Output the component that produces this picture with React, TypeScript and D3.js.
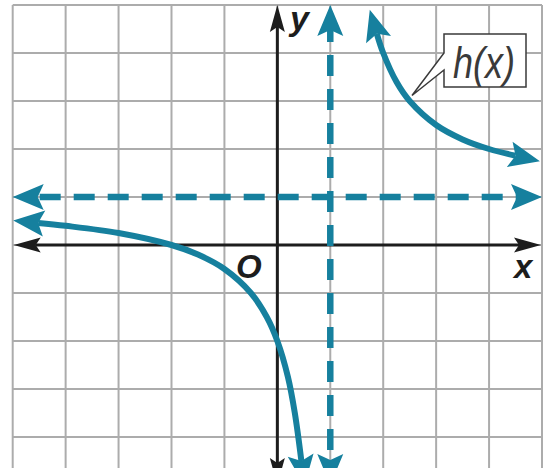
import React from 'react';
import * as d3 from 'd3';

// grid units shown on the graph paper
const xTicks = [-5, -4, -3, -2, -1, 0, 1, 2, 3, 4, 5];
const yTicks = [-5, -4, -3, -2, -1, 0, 1, 2, 3, 4, 5];

// dashed asymptotes
const verticalAsymptotes = [1];
const horizontalAsymptotes = [1];

const leftBranch = [
  { x: -4.52, y: 0.46 },
  { x: -4, y: 0.4 },
  { x: -3, y: 0.25 },
  { x: -2, y: 0 },
  { x: -1.5, y: -0.2 },
  { x: -1, y: -0.5 },
  { x: -0.5, y: -1 },
  { x: -0.2, y: -1.5 },
  { x: 0, y: -2 },
  { x: 0.2, y: -2.75 },
  { x: 0.33, y: -3.5 },
  { x: 0.454, y: -4.5 },
];

const rightBranch = [
  { x: 1.88, y: 4.4 },
  { x: 2, y: 4 },
  { x: 2.25, y: 3.4 },
  { x: 2.5, y: 3 },
  { x: 3, y: 2.5 },
  { x: 3.5, y: 2.2 },
  { x: 4, y: 2 },
  { x: 4.5, y: 1.86 },
];

const curveLabel = 'h(x)';

const TEAL = '#16809e';
const INK = '#1d1d1d';
const GRID = '#acacac';

const width = 545;
const height = 468;

const x = d3.scaleLinear().domain([-5, 5]).range([12.7, 542]);
const y = d3.scaleLinear().domain([-5, 5]).range([485, 5]);

const line = d3
  .line<{ x: number; y: number }>()
  .x(d => x(d.x))
  .y(d => y(d.y))
  .curve(d3.curveCatmullRom.alpha(0.5));

// arrowhead sizes: length, half width, notch depth
const tealHead = { L: 31, W: 13, n: 6 };
const inkHead = { L: 27, W: 7.5, n: 5 };
const tealReach = tealHead.L - tealHead.n;
const inkReach = inkHead.L - inkHead.n;

const dash = 21;
const gap = 13;
const period = dash + gap;

const Marker = ({ id, head, color, start }) => (
  <marker
    id={id}
    markerUnits="userSpaceOnUse"
    markerWidth={head.L}
    markerHeight={head.W * 2}
    refX={head.n}
    refY={head.W}
    orient={start ? 'auto-start-reverse' : 'auto'}
    overflow="visible"
  >
    <path
      d={`M0,0 L${head.L},${head.W} L0,${head.W * 2} L${head.n},${head.W} Z`}
      fill={color}
    />
  </marker>
);

export default function App() {
  const hx1 = x(-5) + tealReach;
  const hx2 = x(5) - tealReach;
  const vy1 = y(5) + tealReach;
  const vy2 = y(-5) - tealReach;

  return (
    <svg
      width={width}
      height={height}
      style={{ position: 'absolute', left: 0, top: 0, background: '#fff' }}
      fontFamily="'Liberation Sans', Arial, sans-serif"
    >
      <defs>
        <Marker id="tealA" head={tealHead} color={TEAL} start />
        <Marker id="inkA" head={inkHead} color={INK} start />
      </defs>

      {/* graph paper */}
      <g stroke={GRID} strokeWidth={2}>
        {xTicks.map(t => (
          <line key={'v' + t} x1={x(t)} x2={x(t)} y1={y(5)} y2={height} />
        ))}
        {yTicks.map(t => (
          <line key={'h' + t} x1={x(-5)} x2={x(5)} y1={y(t)} y2={y(t)} />
        ))}
      </g>

      {/* axes */}
      <g stroke={INK} strokeWidth={3}>
        <line
          x1={x(-5) + 1 + inkReach}
          x2={x(5) - 1 - inkReach}
          y1={y(0)}
          y2={y(0)}
          markerStart="url(#inkA)"
          markerEnd="url(#inkA)"
        />
        <line
          x1={x(0)}
          x2={x(0)}
          y1={y(5) + inkReach}
          y2={y(-5) - inkReach}
          markerStart="url(#inkA)"
          markerEnd="url(#inkA)"
        />
      </g>

      {/* asymptotes */}
      <g stroke={TEAL} strokeWidth={6.5} strokeDasharray={`${dash} ${gap}`}>
        {horizontalAsymptotes.map(a => (
          <line
            key={'ha' + a}
            x1={hx1}
            x2={hx2}
            y1={y(a)}
            y2={y(a)}
            strokeDashoffset={period - ((481.7 - hx1) % period)}
            markerStart="url(#tealA)"
            markerEnd="url(#tealA)"
          />
        ))}
        {verticalAsymptotes.map(a => (
          <line
            key={'va' + a}
            x1={x(a)}
            x2={x(a)}
            y1={vy1}
            y2={vy2}
            strokeDashoffset={period - ((55 - vy1) % period)}
            markerStart="url(#tealA)"
            markerEnd="url(#tealA)"
          />
        ))}
      </g>

      {/* h(x) */}
      <g fill="none" stroke={TEAL} strokeWidth={6}>
        <path d={line(leftBranch)} markerStart="url(#tealA)" markerEnd="url(#tealA)" />
        <path d={line(rightBranch)} markerStart="url(#tealA)" markerEnd="url(#tealA)" />
      </g>

      {/* axis labels */}
      <g fill={INK} fontWeight="bold" fontStyle="italic">
        <text x={290} y={30} fontSize={34}>y</text>
        <text x={514} y={278} fontSize={33}>x</text>
        <text x={236} y={278} fontSize={33}>O</text>
      </g>

      {/* callout */}
      <path
        d="M444,34 H526 V87 H444 V70 L412,95.5 L444,53 Z"
        fill="#fff"
        stroke="#3a3a3a"
        strokeWidth={1.5}
        strokeLinejoin="miter"
      />
      <text
        x={453}
        y={78}
        fontSize={45}
        fontStyle="italic"
        fill="#3a3a3a"
        textLength={62}
        lengthAdjust="spacingAndGlyphs"
      >
        {curveLabel}
      </text>
    </svg>
  );
}
